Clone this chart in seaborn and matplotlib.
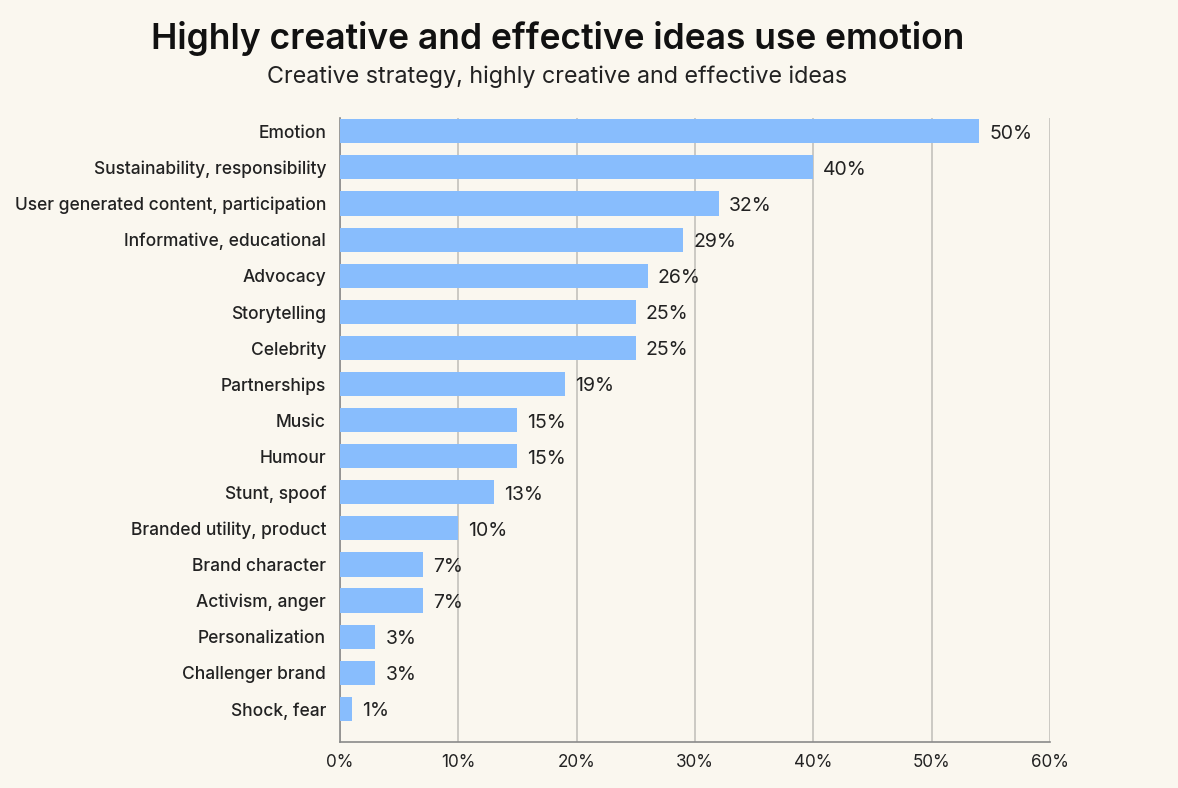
import pandas as pd
import numpy as np
import matplotlib.pyplot as plt
import seaborn as sns

categories = ["Emotion", "Sustainability, responsibility", "User generated content, participation",
              "Informative, educational", "Advocacy", "Storytelling", "Celebrity", "Partnerships",
              "Music", "Humour", "Stunt, spoof", "Branded utility, product", "Brand character",
              "Activism, anger", "Personalization", "Challenger brand", "Shock, fear"]
# bar lengths as drawn in the original (the Emotion bar runs past its label)
values = [54, 40, 32, 29, 26, 25, 25, 19, 15, 15, 13, 10, 7, 7, 3, 3, 1]
value_labels = ["50%", "40%", "32%", "29%", "26%", "25%", "25%", "19%", "15%", "15%",
                "13%", "10%", "7%", "7%", "3%", "3%", "1%"]
xticks = [0, 10, 20, 30, 40, 50, 60]

bg = "#faf7ef"
bar_color = "#88bdfd"

sns.set_style("white")
plt.rcParams['font.family'] = ['Inter', 'DejaVu Sans']

df = pd.DataFrame({"strategy": categories, "share": values})

fig = plt.figure(figsize=(11.78, 7.88), dpi=100, facecolor=bg)
ax = fig.add_axes([0.2886, 0.0584, 0.6027, 0.7919])
ax.set_facecolor(bg)

sns.barplot(data=df, x="share", y="strategy", color=bar_color, saturation=1,
            width=0.67, linewidth=0, ax=ax, zorder=3)

ax.set_xlim(0, 60)
ax.set_ylim(16.92, -0.37)
ax.set_xticks(xticks)
ax.set_xticklabels([f"{t}%" for t in xticks], fontsize=12.3, color="#222222")
ax.tick_params(axis="y", labelsize=12.5, colors="#222222", length=0, pad=10)
ax.tick_params(axis="x", length=0, pad=9)
for lab in ax.get_yticklabels():
    lab.set_fontweight("medium")
ax.set_xlabel("")
ax.set_ylabel("")
ax.grid(axis="x", color="#c8c6c0", linewidth=1.3, zorder=0)

for s in ["top", "right"]:
    ax.spines[s].set_visible(False)
for s in ["left", "bottom"]:
    ax.spines[s].set_color("#8a8a8a")
    ax.spines[s].set_linewidth(1.2)

for i, (v, lab) in enumerate(zip(values, value_labels)):
    ax.text(v + 0.85, i + 0.07, lab, va="center", ha="left", fontsize=14, color="#222222")

fig.text(0.473, 0.951, "Highly creative and effective ideas use emotion", ha="center", va="center",
         fontsize=25.5, fontweight="semibold", color="#111111")
fig.text(0.473, 0.903, "Creative strategy, highly creative and effective ideas", ha="center",
         va="center", fontsize=16.8, color="#222222")

fig.savefig("out.png", dpi=100, facecolor=bg)
